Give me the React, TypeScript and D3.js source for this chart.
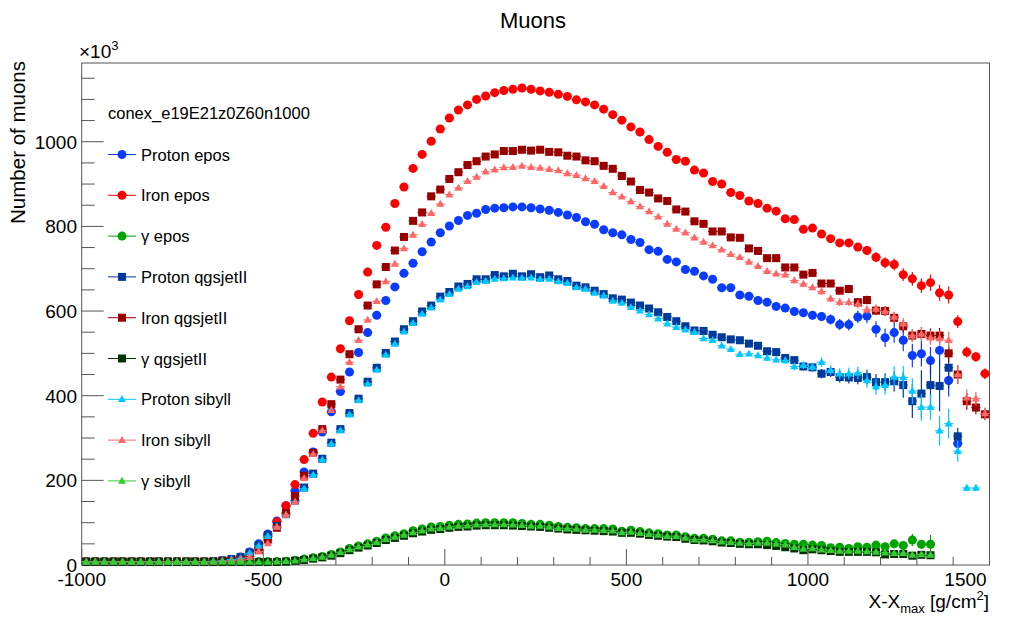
import React from "react";
import * as d3 from "d3";

// bins: 25 g/cm2 wide, starting at -1000
const binLow = -1000;
const binWidth = 25;
const errFrom = 70; // tail error arrays start at this bin

const protonEpos = [
  8, 8, 8, 8, 8, 8, 8, 8, 8, 8, 8, 8, 8, 8, 8, 10, 13, 19, 31, 50,
  73, 104, 140, 175, 220, 267, 314, 362, 410, 456,
  502, 549, 590, 625, 657, 689, 713, 740, 763, 785,
  801, 814, 826, 831, 840, 843, 844, 846, 846, 844,
  841, 838, 833, 827, 821, 811, 805, 792, 785, 780,
  769, 762, 745, 741, 722, 716, 698, 694, 683, 675,
  655, 655, 638, 635, 625, 621, 611, 607, 599, 596,
  590, 587, 580, 568, 568, 586, 588, 557, 537, 549,
  531, 495, 499, 483, 507, 436, 287,
];
const ironEpos = [
  8, 8, 8, 8, 8, 8, 8, 8, 8, 8, 8, 8, 8, 8, 8, 9, 9, 12, 20, 40,
  68, 102, 140, 190, 249, 311, 385, 444, 511, 577,
  639, 692, 755, 798, 854, 893, 937, 970, 1001, 1030,
  1056, 1075, 1087, 1100, 1108, 1116, 1121, 1124, 1127, 1124,
  1120, 1117, 1112, 1107, 1099, 1094, 1087, 1077, 1064, 1051,
  1035, 1023, 1005, 989, 975, 958, 954, 933, 926, 906,
  900, 880, 873, 860, 854, 843, 836, 818, 816, 793,
  796, 782, 771, 761, 761, 751, 743, 727, 714, 710,
  686, 676, 660, 667, 643, 638, 575, 503, 492, 452,
];
const gammaEpos = [
  8, 8, 8, 8, 8, 8, 8, 8, 8, 8, 8, 8, 8, 8, 8, 8, 8, 8, 8, 8,
  8, 8, 9, 11, 14, 17, 20, 25, 31, 39,
  45, 50, 56, 64, 69, 74, 81, 85, 90, 91,
  94, 96, 97, 99, 100, 100, 100, 100, 98, 96,
  96, 94, 91, 89, 88, 86, 86, 86, 85, 80,
  82, 79, 76, 74, 71, 71, 67, 63, 63, 61,
  57, 57, 54, 54, 55, 56, 53, 51, 49, 49,
  47, 46, 41, 42, 39, 43, 42, 47, 43, 50,
  46, 59, 49, 49,
];
const protonQgsjet = [
  8, 8, 8, 8, 8, 8, 8, 8, 8, 8, 8, 8, 8, 8, 9, 11, 14, 19, 29, 47,
  71, 92, 120, 152, 183, 216, 251, 289, 321, 359,
  393, 433, 466, 501, 528, 557, 576, 599, 613, 634,
  645, 658, 664, 675, 675, 685, 682, 688, 682, 687,
  680, 684, 675, 671, 660, 656, 648, 640, 630, 627,
  620, 613, 606, 597, 586, 576, 564, 554, 553, 544,
  538, 533, 531, 523, 518, 505, 503, 489, 484, 469,
  467, 452, 456, 444, 443, 442, 444, 432, 432, 434,
  425, 387, 405, 425, 423, 466, 304,
];
const ironQgsjet = [
  8, 8, 8, 8, 8, 8, 8, 8, 8, 8, 8, 8, 8, 8, 8, 9, 10, 13, 20, 35,
  59, 88, 123, 163, 211, 265, 321, 380, 438, 498,
  557, 613, 663, 704, 743, 775, 813, 833, 871, 887,
  912, 928, 945, 954, 965, 970, 978, 978, 981, 979,
  981, 976, 975, 967, 965, 956, 954, 943, 936, 919,
  906, 886, 880, 866, 860, 840, 835, 812, 806, 788,
  788, 774, 773, 748, 742, 725, 725, 703, 703, 686,
  690, 665, 665, 648, 652, 621, 626, 601, 600, 584,
  564, 542, 546, 542, 542, 500, 450, 387, 372, 356,
];
const gammaQgsjet = [
  7, 7, 7, 7, 7, 7, 7, 7, 7, 7, 7, 7, 7, 7, 7, 7, 7, 7, 7, 7,
  7, 7, 8, 10, 12, 15, 18, 22, 28, 35,
  41, 46, 52, 59, 64, 69, 75, 79, 83, 85,
  88, 90, 91, 93, 94, 94, 94, 93, 92, 91,
  90, 88, 86, 84, 83, 82, 81, 80, 79, 76,
  76, 74, 71, 69, 67, 66, 62, 59, 58, 56,
  53, 52, 50, 49, 49, 47, 45, 42, 39, 35,
  37, 35, 33, 31, 31, 31, 31, 30, 25, 26,
  26, 22, 24, 23,
];
const protonSibyll = [
  8, 8, 8, 8, 8, 8, 8, 8, 8, 8, 8, 8, 8, 8, 9, 10, 13, 16, 28, 45,
  68, 90, 118, 149, 180, 213, 249, 286, 318, 355,
  389, 428, 461, 496, 522, 551, 571, 593, 608, 627,
  640, 652, 658, 668, 671, 676, 677, 679, 678, 679,
  675, 676, 670, 666, 656, 652, 643, 636, 624, 619,
  609, 601, 592, 582, 570, 562, 556, 550, 535, 531,
  518, 510, 498, 499, 495, 489, 485, 483, 469, 472,
  468, 479, 460, 452, 452, 454, 436, 421, 425, 444,
  443, 411, 373, 373, 317, 334, 269, 182, 182,
];
const ironSibyll = [
  8, 8, 8, 8, 8, 8, 8, 8, 8, 8, 8, 8, 8, 8, 8, 9, 10, 12, 18, 32,
  51, 90, 118, 149, 205, 262, 318, 366, 421, 479,
  531, 579, 623, 670, 711, 748, 780, 805, 831, 853,
  875, 891, 907, 917, 929, 934, 939, 940, 943, 940,
  938, 935, 932, 925, 921, 913, 907, 895, 880, 870,
  859, 847, 835, 823, 806, 794, 785, 773, 763, 755,
  745, 734, 727, 716, 706, 694, 688, 686, 672, 664,
  656, 646, 629, 621, 621, 616, 603, 605, 599, 586,
  570, 542, 546, 537, 535, 531, 450, 395, 393, 358,
];
const gammaSibyll = [
  7, 7, 7, 7, 7, 7, 7, 7, 7, 7, 7, 7, 7, 7, 7, 7, 7, 7, 7, 7,
  7, 8, 9, 10, 13, 16, 19, 24, 30, 37,
  43, 48, 54, 61, 66, 71, 77, 81, 86, 87,
  90, 92, 93, 95, 96, 96, 96, 95, 94, 92,
  92, 90, 87, 86, 85, 83, 83, 82, 81, 77,
  78, 75, 73, 71, 68, 68, 64, 60, 60, 58,
  55, 54, 52, 51, 52, 52, 50, 48, 42, 38,
  39, 36, 35, 33, 33, 33, 32, 31, 29, 28,
  28, 24, 25, 24,
];

// statistical errors of the tail (from bin errFrom on)
const protonEposErr = [5, 5, 6, 6, 6, 7, 7, 8, 9, 9, 10, 11, 12, 13, 14, 15, 17, 19, 22, 24, 26, 28, 30, 32, 35, 38, 24];
const ironEposErr = [4, 4, 5, 5, 5, 6, 6, 6, 7, 7, 7, 8, 8, 9, 9, 10, 11, 12, 13, 14, 15, 16, 17, 19, 19, 20, 15, 13, 12, 13];
const gammaEposErr = [2, 2, 2, 2, 3, 3, 3, 3, 3, 4, 4, 4, 4, 5, 5, 5, 6, 6, 7, 8, 9, 14, 10, 22];
const protonQgsjetErr = [5, 5, 6, 6, 6, 7, 7, 8, 8, 9, 10, 11, 12, 13, 14, 15, 17, 19, 21, 24, 30, 40, 55, 65, 60, 50, 20];
const ironQgsjetErr = [4, 4, 5, 5, 5, 6, 6, 6, 7, 7, 7, 8, 8, 9, 9, 10, 10, 11, 12, 13, 14, 15, 16, 17, 18, 20, 22, 20, 16, 14];
const gammaQgsjetErr = [2, 2, 2, 2, 2, 2, 2, 3, 3, 3, 3, 3, 3, 3, 3, 4, 4, 4, 4, 4, 5, 5, 5, 5];
const protonSibyllErr = [5, 5, 6, 6, 6, 7, 7, 8, 9, 9, 10, 11, 12, 13, 14, 15, 17, 19, 22, 25, 28, 30, 32, 30, 35, 35, 25, 8, 8];
const ironSibyllErr = [4, 4, 5, 5, 5, 6, 6, 6, 7, 7, 7, 8, 8, 9, 9, 10, 10, 11, 12, 13, 14, 15, 16, 17, 18, 20, 22, 20, 16, 14];
const gammaSibyllErr = [2, 2, 2, 2, 2, 2, 3, 3, 3, 3, 3, 3, 3, 4, 4, 4, 4, 4, 5, 5, 5, 6, 6, 6];

const series = [
  { name: "Proton epos", values: protonEpos, err: protonEposErr, color: "#0a3cff", marker: "circle" },
  { name: "Iron epos", values: ironEpos, err: ironEposErr, color: "#ff0000", marker: "circle" },
  { name: "\u03b3 epos", values: gammaEpos, err: gammaEposErr, color: "#00a400", marker: "circle" },
  { name: "Proton qgsjetII", values: protonQgsjet, err: protonQgsjetErr, color: "#003a9a", marker: "square" },
  { name: "Iron qgsjetII", values: ironQgsjet, err: ironQgsjetErr, color: "#990000", marker: "square" },
  { name: "\u03b3 qgsjetII", values: gammaQgsjet, err: gammaQgsjetErr, color: "#003300", marker: "square" },
  { name: "Proton sibyll", values: protonSibyll, err: protonSibyllErr, color: "#00c8ff", marker: "triangle" },
  { name: "Iron sibyll", values: ironSibyll, err: ironSibyllErr, color: "#ff6666", marker: "triangle" },
  { name: "\u03b3 sibyll", values: gammaSibyll, err: gammaSibyllErr, color: "#33cc33", marker: "triangle" },
];

const legendHeader = "conex_e19E21z0Z60n1000";
const xMajor = [-1000, -500, 0, 500, 1000, 1500];
const yMajor = [0, 200, 400, 600, 800, 1000];

const W = 1017;
const H = 618;
const plot = { left: 81.7, right: 989.5, top: 63, bottom: 565 };
const font = "'Liberation Sans', Arial, Helvetica, sans-serif";

function Marker({ shape, cx, cy, color }: { shape: string; cx: number; cy: number; color: string }) {
  if (shape === "circle") return <circle cx={cx} cy={cy} r={4.5} fill={color} />;
  if (shape === "square") return <rect x={cx - 4} y={cy - 4} width={8} height={8} fill={color} />;
  return <path d={`M${cx},${cy - 4.2}L${cx + 4},${cy + 2.8}L${cx - 4},${cy + 2.8}Z`} fill={color} />;
}

export default function App() {
  const x = d3.scaleLinear().domain([-1000, 1500]).range([plot.left, plot.right]);
  const y = d3.scaleLinear().domain([0, 1186]).range([plot.bottom, plot.top]);

  const xMinor = d3.range(-1000, 1501, 100).filter((v) => v % 500 !== 0);
  const yMinor = d3.range(0, 1186, 50).filter((v) => v % 200 !== 0);

  const legendX = 108;
  const legendY0 = 154.5;
  const legendStep = 40.8;

  return (
    <svg width={W} height={H} style={{ position: "absolute", left: 0, top: 0, background: "#fff" }} fontFamily={font}>
      <rect x={0} y={0} width={W} height={H} fill="#fff" />

      {/* title */}
      <text x={533} y={28} fontSize={22} textAnchor="middle">Muons</text>

      {/* frame */}
      <rect x={plot.left} y={plot.top} width={plot.right - plot.left} height={plot.bottom - plot.top}
        fill="none" stroke="#555" strokeWidth={1} />

      {/* x ticks */}
      {xMajor.map((v) => (
        <g key={"xM" + v}>
          <line x1={x(v)} x2={x(v)} y1={plot.bottom} y2={plot.bottom - 16} stroke="#555" />
          <text x={v === 1500 ? x(v) - 24 : x(v)} y={586} fontSize={19} textAnchor="middle">{v}</text>
        </g>
      ))}
      {xMinor.map((v) => (
        <line key={"xm" + v} x1={x(v)} x2={x(v)} y1={plot.bottom} y2={plot.bottom - 8} stroke="#555" />
      ))}

      {/* y ticks */}
      {yMajor.map((v) => (
        <g key={"yM" + v}>
          <line x1={plot.left} x2={plot.left + 22} y1={y(v)} y2={y(v)} stroke="#555" />
          <text x={77} y={y(v) + 7} fontSize={19} textAnchor="end">{v}</text>
        </g>
      ))}
      {yMinor.map((v) => (
        <line key={"ym" + v} x1={plot.left} x2={plot.left + 13} y1={y(v)} y2={y(v)} stroke="#555" />
      ))}
      <text x={79} y={58} fontSize={19}>
        {"\u00d710"}
        <tspan fontSize={13} dy={-8}>3</tspan>
      </text>

      {/* axis titles */}
      <text transform={`translate(25,${plot.top - 2}) rotate(-90)`} fontSize={20.5} textAnchor="end">Number of muons</text>
      <text x={989} y={608} fontSize={19} textAnchor="end">
        X-X<tspan fontSize={13} dy={5}>max</tspan>
        <tspan dy={-5}> [g/cm</tspan>
        <tspan fontSize={13} dy={-8}>2</tspan>
        <tspan dy={8}>]</tspan>
      </text>

      {/* data */}
      {series.map((s) => (
        <g key={s.name}>
          {s.values.map((v, i) => {
            const c = binLow + binWidth * (i + 0.5);
            const cx = x(c);
            const cy = y(v);
            const e = i >= errFrom ? s.err[i - errFrom] ?? 0 : 0;
            return (
              <g key={i}>
                <line x1={x(c - binWidth / 2)} x2={x(c + binWidth / 2)} y1={cy} y2={cy} stroke={s.color} strokeWidth={1} />
                {e > 0 && <line x1={cx} x2={cx} y1={y(v - e)} y2={y(v + e)} stroke={s.color} strokeWidth={1.2} />}
                <Marker shape={s.marker} cx={cx} cy={cy} color={s.color} />
              </g>
            );
          })}
        </g>
      ))}

      {/* legend */}
      <text x={legendX} y={119} fontSize={16.5}>{legendHeader}</text>
      {series.map((s, i) => {
        const ly = legendY0 + i * legendStep;
        return (
          <g key={"leg" + s.name}>
            <line x1={legendX} x2={legendX + 28} y1={ly} y2={ly} stroke={s.color} strokeWidth={1} />
            <Marker shape={s.marker} cx={legendX + 14} cy={ly} color={s.color} />
            <text x={legendX + 33} y={ly + 6} fontSize={16.5}>{s.name}</text>
          </g>
        );
      })}
    </svg>
  );
}
